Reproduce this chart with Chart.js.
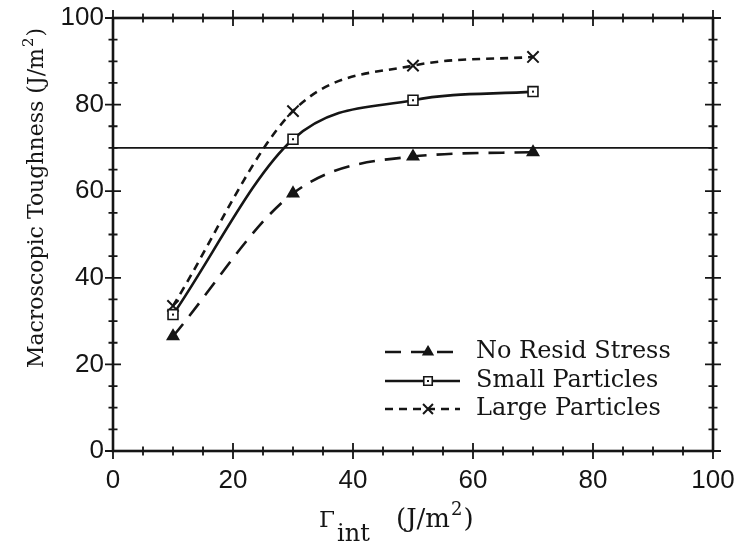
<!DOCTYPE html>
<html><head><meta charset="utf-8">
<script src="https://cdn.jsdelivr.net/npm/chart.js@4.4.0/dist/chart.umd.min.js"></script>
<style>html,body{margin:0;padding:0;background:#fff;} canvas{display:block;}</style>
</head><body>
<canvas id="c" width="736" height="547"></canvas>
<script>
// ---- data ----
const gammaInt = [10, 30, 50, 70];
const noResidStress = [26.5, 59.5, 68, 69];
const smallParticles = [31.5, 72, 81, 83];
const largeParticles = [33.5, 78.5, 89, 91];
const refLineX = [0, 100];
const refLineY = [70, 70];
const xTicks = [0, 20, 40, 60, 80, 100];
const yTicks = [0, 20, 40, 60, 80, 100];
const seriesNames = ['No Resid Stress', 'Small Particles', 'Large Particles'];
const xTitleParts = ['Γ', 'int', '(J/m', '2', ')'];
const yTitleParts = ['Macroscopic Toughness (J/m', '2', ')'];

const INK = '#151515';
const SERIF = '"DejaVu Serif", "Liberation Serif", serif';
const SANS = '"Liberation Sans", Arial, sans-serif';

const toXY = (xs, ys) => xs.map((x, i) => ({x: x, y: ys[i]}));

const styles = [
  {dash: [16, 10], pointStyle: 'triangle', radius: 6.5, fill: INK},
  {dash: [], pointStyle: 'rect', radius: 7, fill: '#fff'},
  {dash: [8, 6], pointStyle: 'crossRot', radius: 8, fill: INK}
];
const seriesData = [noResidStress, smallParticles, largeParticles];

const datasets = seriesData.map((vals, i) => ({
  label: seriesNames[i],
  data: toXY(gammaInt, vals),
  borderColor: INK,
  borderWidth: 2.6,
  borderDash: styles[i].dash,
  cubicInterpolationMode: 'monotone',
  pointStyle: styles[i].pointStyle,
  pointRadius: styles[i].radius,
  pointBackgroundColor: styles[i].fill,
  pointBorderColor: INK,
  pointBorderWidth: i === 2 ? 2 : 1.6,
  fill: false
}));
datasets.push({
  label: 'ref',
  data: toXY(refLineX, refLineY),
  borderColor: INK,
  borderWidth: 1.6,
  pointRadius: 0,
  fill: false
});

function drawSuperscriptRun(ctx, x, y, parts, size) {
  ctx.font = size + 'px ' + SERIF;
  ctx.fillText(parts[0], x, y);
  let w = ctx.measureText(parts[0]).width;
  ctx.font = Math.round(size * 0.7) + 'px ' + SERIF;
  ctx.fillText(parts[1], x + w + 1, y - size * 0.45);
  w += ctx.measureText(parts[1]).width + 2;
  ctx.font = size + 'px ' + SERIF;
  ctx.fillText(parts[2], x + w, y);
  return w + ctx.measureText(parts[2]).width;
}
function measureSuperscriptRun(ctx, parts, size) {
  ctx.font = size + 'px ' + SERIF;
  let w = ctx.measureText(parts[0]).width + ctx.measureText(parts[2]).width;
  ctx.font = Math.round(size * 0.7) + 'px ' + SERIF;
  return w + ctx.measureText(parts[1]).width + 2;
}

const framePlugin = {
  id: 'frame',
  afterDatasetsDraw(chart) {
    const ctx = chart.ctx;
    const xs = chart.scales.x, ys = chart.scales.y;
    const L = xs.getPixelForValue(0), R = xs.getPixelForValue(100);
    const T = ys.getPixelForValue(100), B = ys.getPixelForValue(0);
    ctx.save();
    ctx.strokeStyle = INK;
    ctx.lineWidth = 2.6;
    ctx.strokeRect(L, T, R - L, B - T);
    ctx.lineWidth = 1.8;
    for (let v = 0; v <= 100; v += 5) {
      const major = v % 20 === 0;
      const h = major ? 8 : 4.5;
      const px = xs.getPixelForValue(v);
      const py = ys.getPixelForValue(v);
      ctx.beginPath();
      ctx.moveTo(px, B - h); ctx.lineTo(px, B + h);
      ctx.moveTo(px, T - h); ctx.lineTo(px, T + h);
      ctx.moveTo(L - h, py); ctx.lineTo(L + h, py);
      ctx.moveTo(R - h, py); ctx.lineTo(R + h, py);
      ctx.stroke();
    }
    const m = chart.getDatasetMeta(1);
    ctx.fillStyle = INK;
    m.data.forEach(p => { ctx.fillRect(p.x - 1, p.y - 1, 2, 2); });
    ctx.restore();
  },
  afterDraw(chart) {
    const ctx = chart.ctx;
    ctx.save();
    ctx.fillStyle = INK;
    ctx.strokeStyle = INK;
    ctx.textBaseline = 'alphabetic';
    // x title
    ctx.font = '23px ' + SERIF;
    ctx.fillText(xTitleParts[0], 319, 527);
    ctx.font = '24px ' + SERIF;
    ctx.fillText(xTitleParts[1], 337, 541);
    drawSuperscriptRun(ctx, 396, 527, [xTitleParts[2], xTitleParts[3], xTitleParts[4]], 26);
    // y title
    ctx.save();
    ctx.translate(43, 0);
    ctx.rotate(-Math.PI / 2);
    const ysz = 22;
    const tw = measureSuperscriptRun(ctx, yTitleParts, ysz);
    const cy = 198;
    drawSuperscriptRun(ctx, -(cy + tw / 2), 0, yTitleParts, ysz);
    ctx.restore();
    // legend
    const rows = [352, 381, 409];
    const x0 = 385, x1 = 460, mx = 428;
    rows.forEach((ry, i) => {
      const st = styles[i];
      ctx.lineWidth = 2.6;
      ctx.setLineDash(st.dash);
      ctx.beginPath(); ctx.moveTo(x0, ry); ctx.lineTo(x1, ry); ctx.stroke();
      ctx.setLineDash([]);
      ctx.lineWidth = i === 2 ? 2 : 1.6;
      ctx.fillStyle = st.fill;
      Chart.helpers.drawPoint(ctx, {pointStyle: st.pointStyle, radius: st.radius - 1, borderWidth: ctx.lineWidth}, mx, ry);
      if (i === 1) { ctx.fillStyle = INK; ctx.fillRect(mx - 1, ry - 1, 2, 2); }
      ctx.fillStyle = INK;
      ctx.font = '24px ' + SERIF;
      ctx.textBaseline = 'middle';
      ctx.fillText(seriesNames[i], 476, ry);
    });
    ctx.restore();
  }
};

new Chart(document.getElementById('c'), {
  type: 'line',
  data: {datasets: datasets},
  options: {
    responsive: false,
    animation: false,
    events: [],
    layout: {padding: {left: 0, top: 18, right: 23, bottom: 0}},
    plugins: {legend: {display: false}, tooltip: {enabled: false}},
    scales: {
      x: {
        type: 'linear', min: 0, max: 100,
        afterFit(s) { s.height = 96; s.paddingLeft = 0; s.paddingRight = 0; },
        afterBuildTicks(s) { s.ticks = xTicks.map(v => ({value: v})); },
        grid: {display: false, drawTicks: false},
        border: {display: false},
        ticks: {color: INK, font: {family: SANS, size: 26}, padding: 14, maxRotation: 0}
      },
      y: {
        type: 'linear', min: 0, max: 100,
        afterFit(s) { s.width = 113; s.paddingTop = 0; s.paddingBottom = 0; },
        afterBuildTicks(s) { s.ticks = yTicks.map(v => ({value: v})); },
        grid: {display: false, drawTicks: false},
        border: {display: false},
        ticks: {color: INK, font: {family: SANS, size: 26}, padding: 9}
      }
    }
  },
  plugins: [framePlugin]
});
</script>
</body></html>
